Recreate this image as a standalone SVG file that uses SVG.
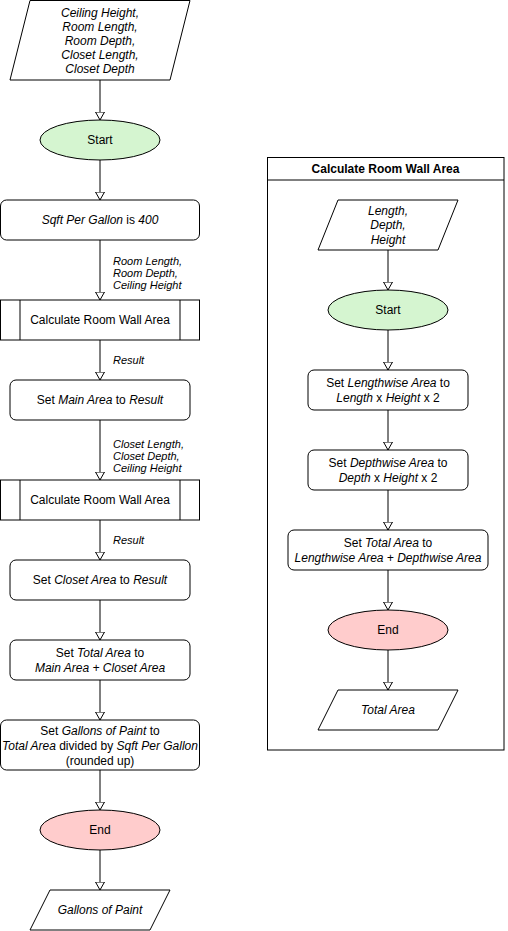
<svg xmlns="http://www.w3.org/2000/svg" width="508" height="931" viewBox="0 0 508 931">
<style>
.s{fill:#fff;stroke:#000;stroke-width:1}
.st{fill:#d5f5d0;stroke:#000;stroke-width:1}
.en{fill:#ffcccc;stroke:#000;stroke-width:1}
.t{font-family:"Liberation Sans",Arial,sans-serif;font-size:12px;fill:#000;text-anchor:middle}
.l{font-family:"Liberation Sans",Arial,sans-serif;font-size:11px;fill:#000;font-style:italic}
.i{font-style:italic}
.h{font-weight:bold}
.c{stroke:#000;stroke-width:1;fill:none;marker-end:url(#arr)}
</style>
<defs>
<marker id="arr" markerUnits="userSpaceOnUse" viewBox="0 0 9 10" markerWidth="9" markerHeight="10" refX="8.5" refY="5" orient="auto">
<path d="M0.5,0.5 L8.5,5 L0.5,9.5 Z" fill="#fff" stroke="#000" stroke-width="1"/>
</marker>
</defs>
<rect width="508" height="931" fill="#fff"/>

<g id="connectors">
<line class="c" x1="100" y1="80" x2="100" y2="120"/>
<line class="c" x1="100" y1="160" x2="100" y2="200"/>
<line class="c" x1="100" y1="240" x2="100" y2="300"/>
<line class="c" x1="100" y1="340" x2="100" y2="380"/>
<line class="c" x1="100" y1="420" x2="100" y2="480"/>
<line class="c" x1="100" y1="520" x2="100" y2="560"/>
<line class="c" x1="100" y1="600" x2="100" y2="640"/>
<line class="c" x1="100" y1="680" x2="100" y2="720"/>
<line class="c" x1="100" y1="770" x2="100" y2="810"/>
<line class="c" x1="100" y1="850" x2="100" y2="890"/>
<line class="c" x1="388" y1="250" x2="388" y2="290"/>
<line class="c" x1="388" y1="330" x2="388" y2="370"/>
<line class="c" x1="388" y1="410" x2="388" y2="450"/>
<line class="c" x1="388" y1="490" x2="388" y2="530"/>
<line class="c" x1="388" y1="570" x2="388" y2="610"/>
<line class="c" x1="388" y1="650" x2="388" y2="690"/>
<text class="l" x="113" y="265">Room Length,</text>
<text class="l" x="113" y="277">Room Depth,</text>
<text class="l" x="113" y="289">Ceiling Height</text>
<text class="l" x="113" y="364">Result</text>
<text class="l" x="113" y="448">Closet Length,</text>
<text class="l" x="113" y="460">Closet Depth,</text>
<text class="l" x="113" y="472">Ceiling Height</text>
<text class="l" x="113" y="544">Result</text>
</g>

<g id="input">
<polygon class="s" points="30,0.5 190,0.5 170,80 10,80"/>
<text class="t i" x="100" y="17">Ceiling Height,</text>
<text class="t i" x="100" y="31">Room Length,</text>
<text class="t i" x="100" y="45">Room Depth,</text>
<text class="t i" x="100" y="59">Closet Length,</text>
<text class="t i" x="100" y="73">Closet Depth</text>
</g>
<g id="start">
<ellipse class="st" cx="100" cy="140" rx="60" ry="20"/>
<text class="t" x="100" y="144">Start</text>
</g>
<g id="sqft">
<rect class="s" x="0.5" y="200" width="199" height="40" rx="6"/>
<text class="t" x="100" y="224"><tspan class="i">Sqft Per Gallon</tspan> is <tspan class="i">400</tspan></text>
</g>
<g id="calc1">
<rect class="s" x="0.5" y="300" width="199" height="40"/>
<line x1="20" y1="300" x2="20" y2="340" stroke="#000"/>
<line x1="180" y1="300" x2="180" y2="340" stroke="#000"/>
<text class="t" x="100" y="324">Calculate Room Wall Area</text>
</g>
<g id="mainArea">
<rect class="s" x="10" y="380" width="180" height="40" rx="6"/>
<text class="t" x="100" y="404">Set <tspan class="i">Main Area</tspan> to <tspan class="i">Result</tspan></text>
</g>
<g id="calc2">
<rect class="s" x="0.5" y="480" width="199" height="40"/>
<line x1="20" y1="480" x2="20" y2="520" stroke="#000"/>
<line x1="180" y1="480" x2="180" y2="520" stroke="#000"/>
<text class="t" x="100" y="504">Calculate Room Wall Area</text>
</g>
<g id="closetArea">
<rect class="s" x="10" y="560" width="180" height="40" rx="6"/>
<text class="t" x="100" y="584">Set <tspan class="i">Closet Area</tspan> to <tspan class="i">Result</tspan></text>
</g>
<g id="totalArea">
<rect class="s" x="10" y="640" width="180" height="40" rx="6"/>
<text class="t" x="100" y="657">Set <tspan class="i">Total Area</tspan> to</text>
<text class="t i" x="100" y="672">Main Area + Closet Area</text>
</g>
<g id="gallons">
<rect class="s" x="0.5" y="720" width="199" height="50" rx="6"/>
<text class="t" x="100" y="735">Set <tspan class="i">Gallons of Paint</tspan> to</text>
<text class="t" x="100" y="750"><tspan class="i">Total Area</tspan> divided by <tspan class="i">Sqft Per Gallon</tspan></text>
<text class="t" x="100" y="765">(rounded up)</text>
</g>
<g id="end">
<ellipse class="en" cx="100" cy="830" rx="60" ry="20"/>
<text class="t" x="100" y="834">End</text>
</g>
<g id="output">
<polygon class="s" points="50,890 170,890 150,930 30,930"/>
<text class="t i" x="100" y="914">Gallons of Paint</text>
</g>

<g id="subprocess">
<rect x="267.5" y="157.5" width="236.5" height="592.5" fill="none" stroke="#000"/>
<line x1="267.5" y1="180" x2="504" y2="180" stroke="#000"/>
<text class="t h" x="385.5" y="173">Calculate Room Wall Area</text>
</g>
<g id="subInput">
<polygon class="s" points="338,200 458,200 438,250 318,250"/>
<text class="t i" x="388" y="215">Length,</text>
<text class="t i" x="388" y="229">Depth,</text>
<text class="t i" x="388" y="244">Height</text>
</g>
<g id="subStart">
<ellipse class="st" cx="388" cy="310" rx="60" ry="20"/>
<text class="t" x="388" y="314">Start</text>
</g>
<g id="lengthwise">
<rect class="s" x="308" y="370" width="160" height="40" rx="6"/>
<text class="t" x="388" y="387">Set <tspan class="i">Lengthwise Area</tspan> to</text>
<text class="t" x="388" y="402"><tspan class="i">Length</tspan> x <tspan class="i">Height</tspan> x 2</text>
</g>
<g id="depthwise">
<rect class="s" x="308" y="450" width="160" height="40" rx="6"/>
<text class="t" x="388" y="467">Set <tspan class="i">Depthwise Area</tspan> to</text>
<text class="t" x="388" y="482"><tspan class="i">Depth</tspan> x <tspan class="i">Height</tspan> x 2</text>
</g>
<g id="subTotal">
<rect class="s" x="288" y="530" width="200" height="40" rx="6"/>
<text class="t" x="388" y="547">Set <tspan class="i">Total Area</tspan> to</text>
<text class="t i" x="388" y="562">Lengthwise Area + Depthwise Area</text>
</g>
<g id="subEnd">
<ellipse class="en" cx="388" cy="630" rx="60" ry="20"/>
<text class="t" x="388" y="634">End</text>
</g>
<g id="subOutput">
<polygon class="s" points="338,690 458,690 438,730 318,730"/>
<text class="t i" x="388" y="714">Total Area</text>
</g>
</svg>
